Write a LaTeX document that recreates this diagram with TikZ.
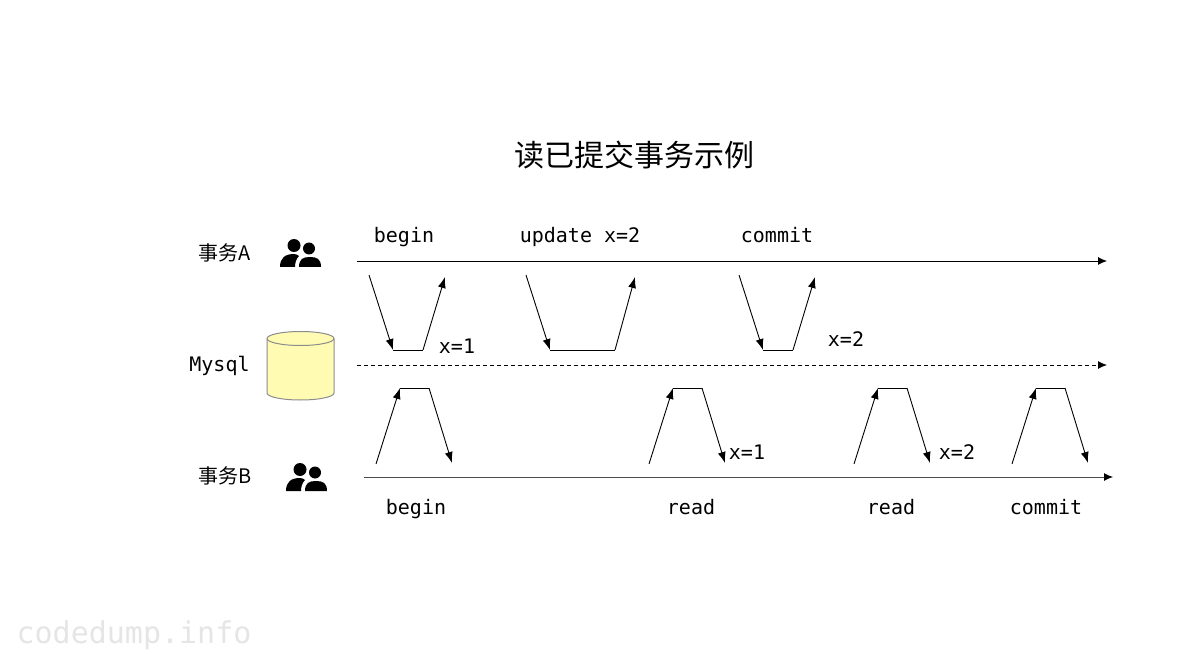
\documentclass[tikz,border=0pt]{standalone}
\usepackage{fontspec}
\setmonofont{DejaVu Sans Mono}
\newfontfamily\cjk{Noto Sans CJK SC}
\usetikzlibrary{arrows.meta}

\begin{document}
\begin{tikzpicture}[x=1pt,y=-1pt]
\tikzset{every node/.style={inner sep=0pt,outer sep=0pt}}
\tikzset{code/.style={font=\fontsize{20}{24}\selectfont\ttfamily,text height=15pt,text depth=0pt}}
\tikzset{actor/.style={font=\fontsize{20}{24}\selectfont\cjk,text height=15pt,text depth=0pt}}
\tikzset{axis/.style={line width=0.9pt,-{Latex[length=9pt,width=8pt,black]}}}
\tikzset{flow/.style={line width=0.9pt,-{Latex[length=11pt,width=8pt]}}}
\tikzset{flat/.style={line width=0.9pt}}
\tikzset{people/.pic={
  \fill (14,6.5) circle (6.5);
  \fill (29,9.5) circle (6);
  \fill (0,28) .. controls (0,19) and (5,15) .. (14,15) .. controls (16,15) and (18,16) .. (19,17) .. controls (16,20) and (15,24) .. (15,28) -- cycle;
  \fill (19,28) .. controls (19,20) and (23,18) .. (30,18) .. controls (37,18) and (41,20) .. (41,28) -- cycle;
}}

\useasboundingbox (0,0) rectangle (1200,655);

\node[font=\fontsize{30}{36}\selectfont\cjk] (title) at (634,155) {读已提交事务示例};

\node[actor] (txa) at (225,253) {事务A};
\node[code] (mysql) at (219.5,364) {Mysql};
\node[actor] (txb) at (225,476) {事务B};
\pic at (280,239) {people};
\pic at (286,463) {people};

\filldraw[draw=black!45,fill=yellow!30,line width=1pt] (267,338.5) -- (267,393) arc[start angle=180,end angle=0,x radius=33.5,y radius=7] -- (334,338.5) arc[start angle=0,end angle=-180,x radius=33.5,y radius=7] -- cycle;
\draw[black!45,line width=1pt] (267,338.5) arc[start angle=180,end angle=0,x radius=33.5,y radius=7];

\coordinate (astart) at (357,261);
\coordinate (aend) at (1107,261);
\coordinate (dstart) at (357,365);
\coordinate (dend) at (1107,365);
\coordinate (bstart) at (364,477);
\coordinate (bend) at (1113,477);
\draw[axis] (astart) -- (aend);
\draw[axis,dash pattern=on 4pt off 3pt] (dstart) -- (dend);
\draw[axis,draw=black!70] (bstart) -- (bend);

\foreach \id/\xa/\xb/\xc/\xd in {1/369/393/423/445,2/526/550/615/635,3/739/763/793/815}{
  \coordinate (w\id a) at (\xa,275);
  \coordinate (w\id b) at (\xb,350);
  \coordinate (w\id c) at (\xc,350);
  \coordinate (w\id d) at (\xd,277);
  \draw[flow] (w\id a) -- (w\id b);
  \draw[flat] (w\id b) -- (w\id c);
  \draw[flow] (w\id c) -- (w\id d);
}
\foreach \id/\xa/\xb/\xc/\xd in {1/376/400/429/452,2/649/673/702/725,3/854/878/907/930,4/1012/1036/1065/1088}{
  \coordinate (r\id a) at (\xa,464);
  \coordinate (r\id b) at (\xb,388);
  \coordinate (r\id c) at (\xc,388);
  \coordinate (r\id d) at (\xd,463);
  \draw[flow] (r\id a) -- (r\id b);
  \draw[flat] (r\id b) -- (r\id c);
  \draw[flow] (r\id c) -- (r\id d);
}

\node[code] (abegin) at (404,235) {begin};
\node[code] (aupdate) at (580,235) {update x=2};
\node[code] (acommit) at (777,235) {commit};
\node[code] (xa) at (457,346) {x=1};
\node[code] (xb) at (846,339) {x=2};
\node[code] (xc) at (747,452) {x=1};
\node[code] (xd) at (957,452) {x=2};
\node[code] (bbegin) at (416,507) {begin};
\node[code] (bread) at (691,507) {read};
\node[code] (breadb) at (891,507) {read};
\node[code] (bcommit) at (1046,507) {commit};

\node[font=\fontsize{30}{36}\selectfont\ttfamily,text=black!10] (mark) at (134,635) {codedump.info};

\end{tikzpicture}
\end{document}
